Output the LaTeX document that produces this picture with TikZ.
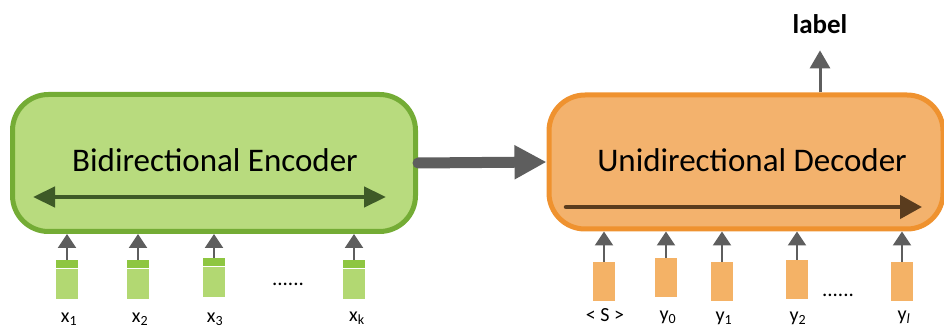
\documentclass[tikz,border=0pt]{standalone}
\usepackage{fontspec}
\setmainfont{Carlito}
\usetikzlibrary{arrows.meta}
\definecolor{encfill}{HTML}{B8DB7E}
\definecolor{encline}{HTML}{74AC35}
\definecolor{decfill}{HTML}{F3B26D}
\definecolor{decline}{HTML}{EF922F}
\definecolor{tokgreen}{HTML}{B2D872}
\definecolor{tokband}{HTML}{8EC641}
\definecolor{tokorange}{HTML}{F4B266}
\definecolor{arrowgray}{HTML}{5E5E5E}
\definecolor{encflow}{HTML}{3E5A27}
\definecolor{decflow}{HTML}{5A3C1E}

\begin{document}
\begin{tikzpicture}[x=1pt,y=-1pt,
  block/.style={line width=5pt, rounded corners=36pt, inner sep=0pt, outer sep=2.5pt},
  blocktext/.style={font=\fontsize{33}{36}\selectfont, inner sep=0pt, anchor=base},
  tokx/.style={minimum width=22pt, minimum height=39pt, inner sep=0pt, anchor=north,
    fill=tokgreen,
    path picture={
      \fill[tokband] (path picture bounding box.north west) rectangle
        ([yshift=-8pt]path picture bounding box.north east);
      \draw[white, line width=1.2pt]
        ([yshift=-8.6pt]path picture bounding box.north west) --
        ([yshift=-8.6pt]path picture bounding box.north east);}},
  toky/.style={minimum width=22pt, minimum height=39pt, inner sep=0pt, anchor=north, fill=tokorange},
  toklabel/.style={font=\fontsize{20}{22}\selectfont, inner sep=0pt, anchor=base},
  dots/.style={font=\fontsize{21}{24}\selectfont, inner sep=0pt},
  inarrow/.style={draw=arrowgray, line width=2.4pt, -{Triangle[length=14pt,width=18pt]}},
  outarrow/.style={draw=arrowgray, line width=3pt, -{Triangle[length=18pt,width=20pt]}},
  bigarrow/.style={draw=arrowgray, line width=11pt, line cap=round, -{Triangle[length=32pt,width=32pt]}},
  flow/.style={line width=4.5pt}
]
\useasboundingbox (0,0) rectangle (944,328);

% the two blocks
\node[block, draw=encline, fill=encfill, minimum width=403pt, minimum height=137pt] (enc) at (214,163) {};
\node[block, draw=decline, fill=decfill, minimum width=394pt, minimum height=134pt] (dec) at (746,162) {};

\node[blocktext] (enctext) at (215,172) {Bidirectional Encoder};
\node[blocktext] (dectext) at (752,172) {Unidirectional Decoder};

% flow direction inside the blocks
\coordinate (encL) at (33,197);
\coordinate (encR) at (386,197);
\draw[flow, encflow, {Triangle[length=22pt,width=20pt]}-{Triangle[length=22pt,width=20pt]}] (encL) -- (encR);
\coordinate (decL) at (566,207);
\coordinate (decR) at (922,207);
\draw[flow, decflow, line cap=round, -{Triangle[length=22pt,width=23pt]}] (decL) -- (decR);

% encoder to decoder
\draw[bigarrow] (enc.east) -- (dec.west);

% output label
\node[font=\bfseries\fontsize{27}{30}\selectfont, inner sep=0pt, anchor=base] (lab) at (820,34) {label};
\draw[outarrow] (dec.north -| lab) -- ([yshift=-16pt]lab.south);

% encoder inputs
\node[tokx] (x1) at (67,260) {};
\node[tokx] (x2) at (138,260) {};
\node[tokx] (x3) at (214,258) {};
\node[tokx] (xk) at (354,260) {};
\node[dots] (xdots) at (288,284) {......};

\node[toklabel] (lx1) at (69,322) {x\textsubscript{1}};
\node[toklabel] (lx2) at (140,322) {x\textsubscript{2}};
\node[toklabel] (lx3) at (215,322) {x\textsubscript{3}};
\node[toklabel] (lxk) at (357,321) {x\textsubscript{k}};

\foreach \t in {x1,x2,x3,xk}
  \draw[inarrow] (\t.north) -- (\t.north |- enc.south);

% decoder inputs
\node[toky] (s) at (604,262) {};
\node[toky] (y0) at (666,258) {};
\node[toky] (y1) at (722,262) {};
\node[toky] (y2) at (797,260) {};
\node[toky] (yl) at (902,262) {};
\node[dots] (ydots) at (838,295) {......};

\node[toklabel] (ls) at (605,321) {< S >};
\node[toklabel] (ly0) at (668,320) {y\textsubscript{0}};
\node[toklabel] (ly1) at (724,321) {y\textsubscript{1}};
\node[toklabel] (ly2) at (798,321) {y\textsubscript{2}};
\node[toklabel] (lyl) at (904,320) {y\textsubscript{\itshape l}};

\foreach \t in {s,y0,y1,y2,yl}
  \draw[inarrow] (\t.north) -- (\t.north |- dec.south);
\end{tikzpicture}
\end{document}
